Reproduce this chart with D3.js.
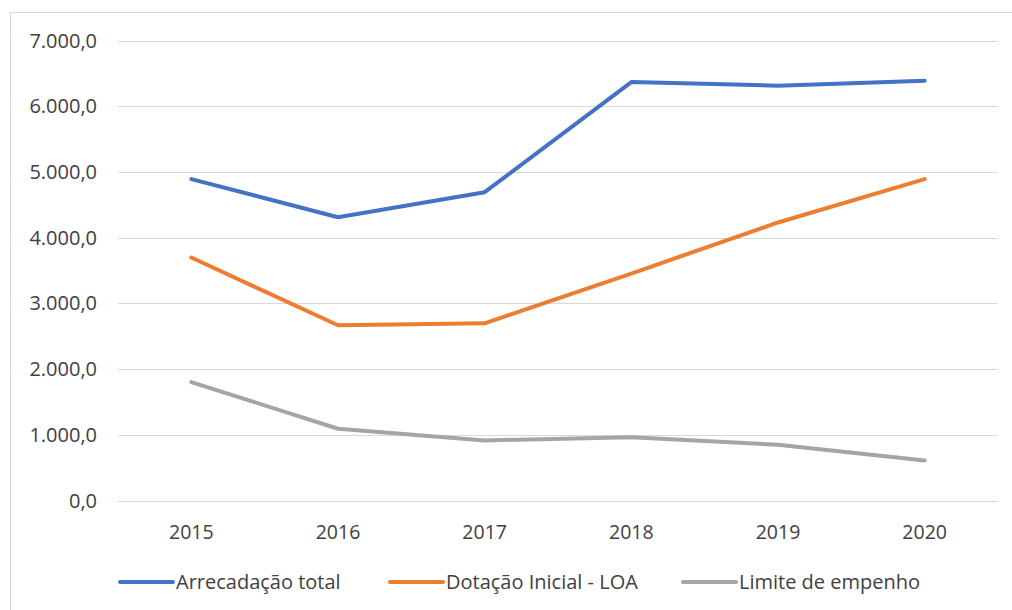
<!DOCTYPE html>
<html>
<head>
<meta charset="utf-8">
<script src="https://cdn.jsdelivr.net/npm/d3@7"></script>
<style>
  body { margin: 0; background: #fff; }
  svg text { font-family: "Open Sans", "Noto Sans", sans-serif; fill: #404040; }
</style>
</head>
<body>
<svg width="1012" height="610"></svg>
<script>
var years = ["2015", "2016", "2017", "2018", "2019", "2020"];
var arrecadacao = [4890, 4311, 4692, 6368, 6312, 6388];
var dotacao = [3697, 2666, 2697, 3454, 4231, 4890];
var limite = [1802, 1092, 914, 964, 848, 609];
var yTicks = [0, 1000, 2000, 3000, 4000, 5000, 6000, 7000];

var seriesNames = ["Arrecadação total", "Dotação Inicial - LOA", "Limite de empenho"];
var seriesColors = ["#4472C4", "#ED7D31", "#A5A5A5"];
var seriesValues = [arrecadacao, dotacao, limite];

var svg = d3.select("svg");

// chart frame (left + top edges visible)
svg.append("rect")
    .attr("x", 10.5).attr("y", 12.5)
    .attr("width", 1010).attr("height", 610)
    .attr("fill", "none")
    .attr("stroke", "#d9d9d9");

var x = d3.scaleBand().domain(years).range([118, 998]);
var y = d3.scaleLinear().domain([0, 7000]).range([500.5, 40.5]);

var fmt = function(v) {
    return d3.format(",.1f")(v).replace(/,/g, "#").replace(".", ",").replace(/#/g, ".");
};

// grid
svg.append("g").selectAll("line")
    .data(yTicks)
    .enter().append("line")
    .attr("x1", 118).attr("x2", 998)
    .attr("y1", function(d) { return Math.round(y(d)) + 0.5; })
    .attr("y2", function(d) { return Math.round(y(d)) + 0.5; })
    .attr("stroke", "#d9d9d9")
    .attr("stroke-width", 1);

// y labels
svg.append("g").selectAll("text")
    .data(yTicks)
    .enter().append("text")
    .attr("x", 97)
    .attr("y", function(d) { return y(d); })
    .attr("dy", "0.35em")
    .attr("text-anchor", "end")
    .style("font-size", "20px")
    .text(fmt);

// x labels
svg.append("g").selectAll("text")
    .data(years)
    .enter().append("text")
    .attr("x", function(d) { return x(d) + x.bandwidth() / 2; })
    .attr("y", 532)
    .attr("dy", "0.35em")
    .attr("text-anchor", "middle")
    .style("font-size", "19.5px")
    .text(function(d) { return d; });

var line = d3.line()
    .x(function(d, i) { return x(years[i]) + x.bandwidth() / 2; })
    .y(function(d) { return y(d); });

seriesValues.forEach(function(vals, k) {
    svg.append("path")
        .datum(vals)
        .attr("d", line)
        .attr("fill", "none")
        .attr("stroke", seriesColors[k])
        .attr("stroke-width", 4)
        .attr("stroke-linecap", "round")
        .attr("stroke-linejoin", "round");
});

// legend
var legendX = [120, 390, 683];
var legend = svg.append("g").selectAll("g")
    .data(seriesNames)
    .enter().append("g")
    .attr("transform", function(d, i) { return "translate(" + legendX[i] + ",582)"; });

legend.append("line")
    .attr("x1", 0).attr("x2", 53)
    .attr("y1", 0).attr("y2", 0)
    .attr("stroke", function(d, i) { return seriesColors[i]; })
    .attr("stroke-width", 4)
    .attr("stroke-linecap", "round");

legend.append("text")
    .attr("x", 56)
    .attr("y", 0)
    .attr("dy", "0.35em")
    .style("font-size", "20px")
    .text(function(d) { return d; });
</script>
</body>
</html>
